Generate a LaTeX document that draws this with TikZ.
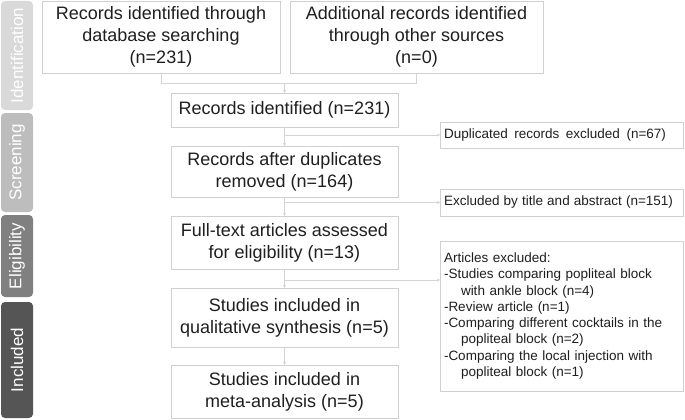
\documentclass[tikz,border=0pt]{standalone}
\usepackage{fontspec}
\setmainfont{Liberation Sans}
\usetikzlibrary{arrows.meta}
\definecolor{boxgray}{HTML}{D0D0D0}
\definecolor{linegray}{HTML}{D4D4D4}
\definecolor{txt}{HTML}{1F1F1F}
\definecolor{cid}{HTML}{D9D9D9}
\definecolor{csc}{HTML}{BDBDBD}
\definecolor{cel}{HTML}{808080}
\definecolor{cin}{HTML}{555555}
\newcommand{\spreadline}[2]{\makebox[#1][s]{\spaceskip=0.28em plus 1fil\relax #2}}
\tikzset{
  mainbox/.style={draw=boxgray, line width=0.9pt, fill=white, text=txt,
    font=\fontsize{18}{22}\selectfont, align=center, inner sep=0pt, outer sep=0pt,
    anchor=north west},
  sidebox/.style={draw=boxgray, line width=0.9pt, fill=white, text=txt,
    font=\fontsize{13.5}{16.3}\selectfont, align=left, inner xsep=4pt, inner ysep=0pt,
    outer sep=0pt, anchor=north west, text width=235pt},
  phase/.style={rounded corners=4pt, text=white, rotate=90, inner sep=0pt,
    font=\fontsize{17}{20}\selectfont, minimum height=32pt},
  conn/.style={draw=linegray, line width=0.9pt},
  arr/.style={conn, -{Stealth[length=3pt,width=3pt]}},
}
\begin{document}
\begin{tikzpicture}[x=1pt,y=-1pt]
\useasboundingbox (0,0) rectangle (685,420);
% phase labels
\node[phase, fill=cid, minimum width=109pt] (lid) at (17,55.5) {Identification};
\node[phase, fill=csc, minimum width=99pt] (lsc) at (17,162.5) {Screening};
\node[phase, fill=cel, minimum width=82pt] (lel) at (17,256) {Eligibility};
\node[phase, fill=cin, minimum width=116pt] (lin) at (17,360) {Included};
% main boxes
\node[mainbox, minimum width=238pt, minimum height=72pt] (b1) at (42,1)
  {Records identified through\\database searching\\(n=231)};
\node[mainbox, minimum width=253pt, minimum height=72pt] (b2) at (290,1)
  {Additional records identified\\through other sources\\(n=0)};
\node[mainbox, minimum width=227pt, minimum height=34pt] (b3) at (171,93)
  {Records identified (n=231)};
\node[mainbox, minimum width=227pt, minimum height=51pt] (b4) at (171,146)
  {Records after duplicates\\removed (n=164)};
\node[mainbox, minimum width=227pt, minimum height=53pt] (b5) at (171,216)
  {Full-text articles assessed\\for eligibility (n=13)};
\node[mainbox, minimum width=227pt, minimum height=59pt] (b6) at (171,288)
  {Studies included in\\qualitative synthesis (n=5)};
\node[mainbox, minimum width=227pt, minimum height=53pt] (b7) at (171,365)
  {Studies included in\\meta-analysis (n=5)};
% side boxes
\node[sidebox, minimum height=26pt] (s1) at (440,122)
  {\spreadline{222pt}{Duplicated records excluded (n=67)}};
\node[sidebox, minimum height=27pt] (s2) at (440,189)
  {\spreadline{229pt}{Excluded by title and abstract (n=151)}};
\node[sidebox, minimum height=150pt] (s3) at (440,241)
  {Articles excluded:\\
   -Studies comparing popliteal block\\
   \hspace*{17pt}with ankle block (n=4)\\
   -Review article (n=1)\\
   -Comparing different cocktails in the\\
   \hspace*{17pt}popliteal block (n=2)\\
   -Comparing the local injection with\\
   \hspace*{17pt}popliteal block (n=1)};
% connectors
\coordinate (j1) at (284.5,83);
\draw[conn] (b1.south) -- (b1.south |- j1) -- (b2.south |- j1) -- (b2.south);
\draw[arr] (j1) -- (b3.north);
\draw[arr] (b3.south) -- (b4.north);
\draw[arr] (b4.south) -- (b5.north);
\draw[arr] (b5.south) -- (b6.north);
\draw[arr] (b6.south) -- (b7.north);
\coordinate (c1) at (b3.south |- s1.west);
\coordinate (c2) at (b4.south |- s2.west);
\coordinate (c3) at (284.5,280);
\draw[arr] (c1) -- (s1.west);
\draw[arr] (c2) -- (s2.west);
\draw[arr] (c3) -- (c3 -| s3.west);
\end{tikzpicture}
\end{document}
